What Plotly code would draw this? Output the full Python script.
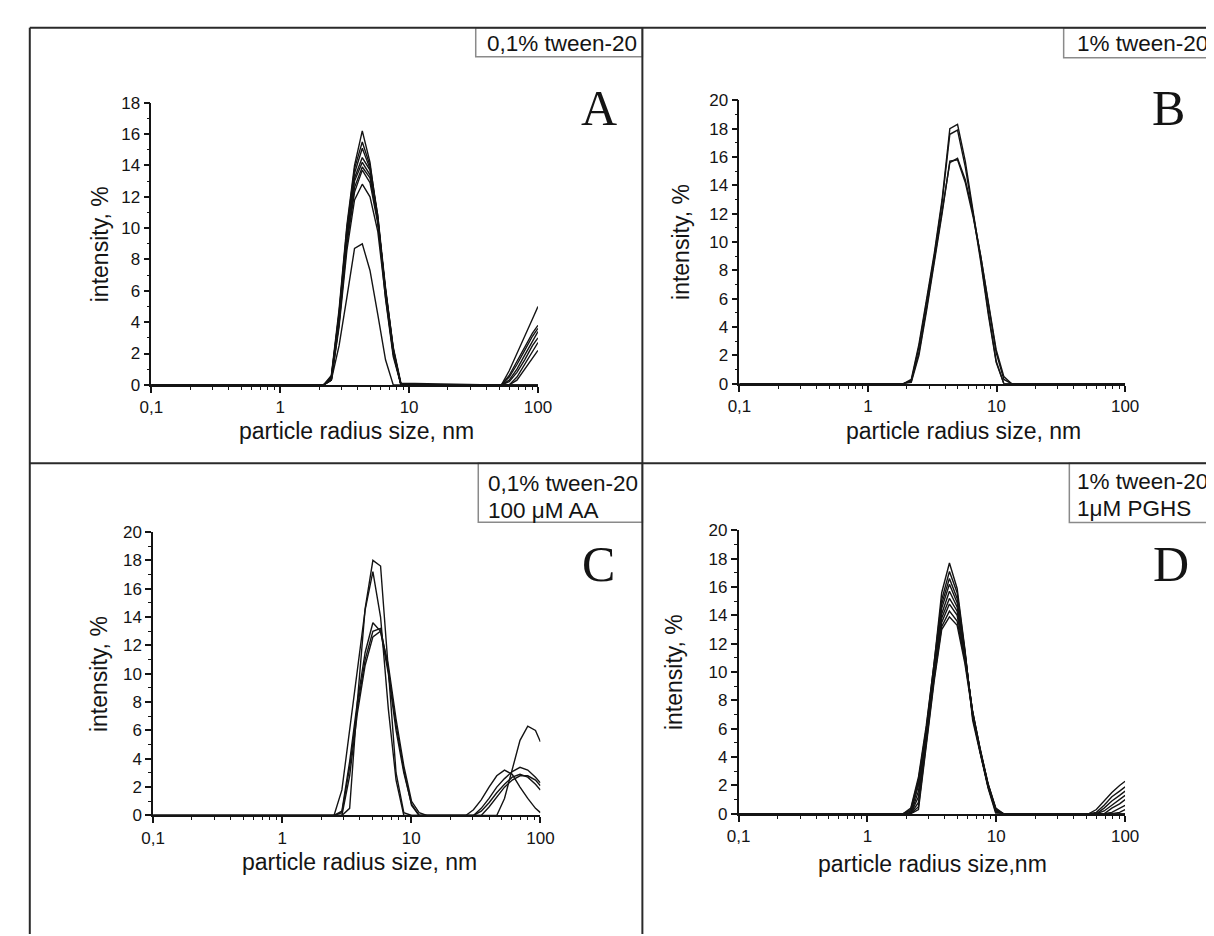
import plotly.graph_objects as go

W, H = 1214, 936

# ---------------- data ----------------
# Panel A: 0,1% tween-20
A_x_main = [2.17, 2.49, 2.86, 3.29, 3.77, 4.33, 4.97, 5.71, 6.56, 7.53, 8.65]
A_main = [
    [0, 0.6, 4.8, 10.2, 14.0, 16.2, 14.2, 10.5, 5.5, 1.8, 0],
    [0, 0.5, 4.6, 10.0, 13.8, 15.5, 14.0, 10.8, 5.8, 2.0, 0],
    [0, 0.5, 4.5, 9.8, 13.5, 15.1, 13.8, 10.6, 5.9, 2.1, 0],
    [0, 0.4, 4.3, 9.6, 13.2, 14.5, 13.7, 10.8, 6.2, 2.3, 0],
    [0, 0.4, 4.2, 9.4, 13.0, 14.2, 13.4, 10.6, 6.0, 2.2, 0],
    [0, 0.3, 4.0, 9.2, 12.6, 13.9, 13.2, 10.5, 6.1, 2.4, 0.1],
    [0, 0.3, 3.9, 9.0, 12.3, 13.7, 12.9, 10.3, 6.0, 2.3, 0],
    [0, 0.3, 3.7, 8.6, 11.8, 12.8, 12.0, 9.8, 5.6, 2.0, 0],
    [0, 0.3, 2.5, 5.6, 8.7, 9.0, 7.3, 4.5, 1.6, 0, 0],
]
A_x_far = [45.4, 52.1, 59.8, 68.7, 78.9, 90.6, 100]
A_far = [
    [0, 0, 0.9, 2.0, 3.0, 4.2, 5.0],
    [0, 0, 0.6, 1.5, 2.4, 3.3, 3.8],
    [0, 0, 0.5, 1.3, 2.2, 3.1, 3.6],
    [0, 0, 0.3, 1.0, 1.9, 2.8, 3.4],
    [0, 0, 0.2, 0.8, 1.6, 2.5, 3.0],
    [0, 0, 0, 0.5, 1.3, 2.1, 2.7],
    [0, 0, 0, 0.3, 1.0, 1.7, 2.2],
    [0, 0, 0, 0, 0, 0, 0],
    [0, 0, 0, 0, 0, 0, 0],
]

# Panel B: 1% tween-20
B_x_main = [1.89, 2.17, 2.49, 2.86, 3.29, 3.77, 4.33, 4.97, 5.71, 6.56, 7.53, 8.65, 9.93, 11.4, 13.1]
B_main = [
    [0, 0.3, 2.8, 6.0, 9.3, 13.0, 18.0, 18.3, 15.7, 12.2, 8.8, 5.0, 1.6, 0, 0],
    [0, 0.2, 2.6, 5.8, 9.1, 12.8, 17.6, 17.9, 15.3, 12.0, 8.6, 4.8, 1.5, 0, 0],
    [0, 0.2, 2.2, 5.4, 8.7, 12.2, 15.6, 15.9, 14.4, 12.0, 9.0, 5.5, 2.2, 0.3, 0],
    [0, 0.1, 2.0, 5.2, 8.5, 12.0, 15.7, 15.8, 14.2, 11.8, 9.0, 5.6, 2.4, 0.5, 0],
]
B_x_far = [90.6, 100]
B_far = [[0, 0], [0, 0], [0, 0], [0, 0]]

# Panel C: 0,1% tween-20 + 100 uM AA
C_x_main = [2.52, 2.90, 3.33, 3.82, 4.39, 5.04, 5.78, 6.64, 7.62, 8.75, 10.05, 11.5, 13.2]
C_main = [
    [0, 0, 0.5, 8.0, 14.6, 18.0, 17.6, 10.5, 3.0, 0.2, 0, 0, 0],
    [0, 1.8, 6.0, 10.5, 14.5, 17.2, 14.0, 7.5, 2.5, 0, 0, 0, 0],
    [0, 0.3, 3.8, 8.0, 11.5, 13.6, 13.0, 10.0, 6.0, 3.0, 0.8, 0, 0],
    [0, 0.2, 3.4, 7.6, 11.0, 13.0, 13.2, 10.3, 6.4, 3.2, 0.7, 0, 0],
    [0, 0, 2.8, 7.2, 10.6, 12.6, 13.0, 10.6, 6.8, 3.5, 1.0, 0.2, 0],
]
C_x_far = [26.4, 30.3, 34.8, 40.0, 45.9, 52.7, 60.5, 69.5, 79.8, 91.6, 100]
C_far = [
    [0, 0, 0, 0, 0, 1.2, 3.2, 5.3, 6.3, 6.0, 5.2],
    [0, 0.4, 1.1, 2.0, 2.8, 3.2, 2.9, 2.0, 1.2, 0.5, 0.2],
    [0, 0, 0.5, 1.2, 2.0, 2.6, 3.1, 3.4, 3.2, 2.7, 2.3],
    [0, 0, 0.3, 0.9, 1.6, 2.2, 2.7, 2.9, 2.7, 2.2, 1.8],
    [0, 0, 0, 0.6, 1.3, 2.0, 2.5, 2.8, 2.8, 2.5, 2.1],
]

# Panel D: 1% tween-20 + 1 uM PGHS
D_x_main = [1.89, 2.17, 2.49, 2.86, 3.29, 3.77, 4.33, 4.97, 5.71, 6.56, 7.53, 8.65, 9.93, 11.4]
D_main = [
    [0, 0.4, 2.6, 6.2, 10.6, 15.6, 17.7, 15.9, 11.6, 6.6, 4.2, 1.8, 0, 0],
    [0, 0.3, 2.4, 6.0, 10.4, 15.1, 17.1, 15.6, 11.5, 6.8, 4.3, 1.9, 0.1, 0],
    [0, 0.2, 2.2, 5.8, 10.2, 14.8, 16.6, 15.2, 11.4, 6.9, 4.3, 1.9, 0.2, 0],
    [0, 0.1, 2.0, 5.7, 10.1, 14.5, 16.2, 14.9, 11.3, 7.0, 4.4, 2.0, 0.2, 0],
    [0, 0, 1.6, 5.5, 9.9, 14.1, 15.7, 14.6, 11.2, 7.1, 4.4, 2.0, 0.3, 0],
    [0, 0, 1.2, 5.3, 9.8, 13.8, 15.2, 14.3, 11.1, 7.2, 4.5, 2.1, 0.3, 0],
    [0, 0, 0.8, 5.2, 9.7, 13.5, 14.8, 14.0, 11.0, 7.2, 4.5, 2.1, 0.4, 0],
    [0, 0, 0.5, 5.0, 9.5, 13.2, 14.3, 13.6, 10.8, 7.1, 4.4, 2.0, 0.3, 0],
    [0, 0, 0.3, 4.8, 9.3, 13.0, 13.9, 13.3, 10.6, 7.0, 4.3, 1.9, 0.2, 0],
]
D_x_far = [52.1, 59.8, 68.7, 78.9, 90.6, 100]
D_far = [
    [0, 0.3, 0.9, 1.5, 2.0, 2.3],
    [0, 0.1, 0.6, 1.2, 1.6, 1.9],
    [0, 0, 0.4, 0.9, 1.3, 1.6],
    [0, 0, 0.2, 0.6, 1.0, 1.3],
    [0, 0, 0, 0.4, 0.7, 1.0],
    [0, 0, 0, 0.1, 0.4, 0.6],
    [0, 0, 0, 0, 0.1, 0.3],
    [0, 0, 0, 0, 0, 0],
    [0, 0, 0, 0, 0, 0],
]

x_tickvals = [0.1, 1, 10, 100]
x_ticktext = ["0,1", "1", "10", "100"]
x_minor = [m * d for d in (0.1, 1, 10) for m in range(2, 10)]

box_labels = {
    "A": ["0,1% tween-20"],
    "B": ["1% tween-20"],
    "C": ["0,1% tween-20", "100 \u03bcM AA"],
    "D": ["1% tween-20", "1\u03bcM PGHS"],
}
x_titles = {
    "A": "particle radius size, nm",
    "B": "particle radius size, nm",
    "C": "particle radius size, nm",
    "D": "particle radius size,nm",
}
y_title = "intensity, %"
y_max = {"A": 18, "B": 20, "C": 20, "D": 20}

# ---------------- layout geometry (pixels) ----------------
def px(x):
    return x / W


def py(y):
    return 1 - y / H


# axis pixel boxes: x0, x1, ytop, ybottom
axbox = {
    "A": (134.3, 529.3, 87.5, 375.5),
    "B": (735.2, 1129.3, 85.0, 374.3),
    "C": (136.0, 531.8, 525.7, 815.0),
    "D": (734.3, 1129.3, 524.0, 813.3),
}
xtitle_pos = {"A": (344, 423), "B": (964, 423), "C": (347, 863), "D": (932, 865)}
ytitle_pos = {"A": (82, 231.7), "B": (675.5, 229.6), "C": (81, 670.4), "D": (669, 669)}
letter_pos = {"A": (592, 93), "B": (1174, 93), "C": (591, 558), "D": (1176, 558)}
boxes = {
    "A": (465.7, 636, 11, 40.7),
    "B": (1066.5, 1230, 11, 41.7),
    "C": (468.3, 636, 455.5, 515.7),
    "D": (1072.3, 1230, 455.5, 516.0),
}
box_text = {
    "A": (475, [27.0]),
    "B": (1078, [27.5]),
    "C": (476, [475.7, 503.5]),
    "D": (1078, [474.3, 501.7]),
}

panels = {
    "A": (A_x_main, A_main, A_x_far, A_far),
    "B": (B_x_main, B_main, B_x_far, B_far),
    "C": (C_x_main, C_main, C_x_far, C_far),
    "D": (D_x_main, D_main, D_x_far, D_far),
}

fig = go.Figure()
ink = "#141414"
layout_axes = {}
annotations = []
shapes = []

for i, key in enumerate(["A", "B", "C", "D"]):
    n = "" if i == 0 else str(i + 1)
    xm, mains, xf, fars = panels[key]
    for ym, yf in zip(mains, fars):
        fig.add_trace(go.Scatter(
            x=[0.1] + xm + xf, y=[0] + ym + yf, mode="lines",
            line=dict(color=ink, width=1.4), showlegend=False, hoverinfo="skip",
            xaxis="x" + n, yaxis="y" + n,
        ))
    x0, x1, yt, yb = axbox[key]
    layout_axes["xaxis" + n] = dict(
        type="log", range=[-1, 2], domain=[px(x0), px(x1)], anchor="y" + n,
        tickmode="array", tickvals=x_tickvals, ticktext=x_ticktext,
        ticks="outside", ticklen=6, tickwidth=1.5, tickcolor=ink,
        showline=True, linecolor=ink, linewidth=1.6, showgrid=False, zeroline=False,
        tickfont=dict(family="Liberation Sans", size=17, color=ink),
        minor=dict(tickmode="array", tickvals=x_minor, ticks="outside", ticklen=3,
                   tickwidth=1.3, tickcolor=ink, showgrid=False),
    )
    layout_axes["yaxis" + n] = dict(
        range=[0, y_max[key]], domain=[py(yb), py(yt)], anchor="x" + n,
        tickmode="linear", tick0=0, dtick=2,
        ticks="outside", ticklen=6, tickwidth=1.5, tickcolor=ink,
        showline=True, linecolor=ink, linewidth=1.6, showgrid=False, zeroline=False,
        tickfont=dict(family="Liberation Sans", size=17, color=ink),
        minor=dict(tick0=0, dtick=1, ticks="outside", ticklen=3, tickwidth=1.3,
                   tickcolor=ink, showgrid=False),
    )
    # axis titles
    tx, ty = xtitle_pos[key]
    annotations.append(dict(x=px(tx), y=py(ty), xref="paper", yref="paper",
                            text=x_titles[key], showarrow=False, xanchor="center", yanchor="middle",
                            font=dict(family="Liberation Sans", size=23, color=ink)))
    tx, ty = ytitle_pos[key]
    annotations.append(dict(x=px(tx), y=py(ty), xref="paper", yref="paper",
                            text=y_title, showarrow=False, textangle=-90, xanchor="center", yanchor="middle",
                            font=dict(family="Liberation Sans", size=23, color=ink)))
    # panel letter
    lx, ly = letter_pos[key]
    annotations.append(dict(x=px(lx), y=py(ly), xref="paper", yref="paper",
                            text=key, showarrow=False, xanchor="center", yanchor="middle",
                            font=dict(family="Liberation Serif", size=50, color=ink)))
    # label box
    bx0, bx1, by0, by1 = boxes[key]
    shapes.append(dict(type="rect", xref="paper", yref="paper",
                       x0=px(bx0), x1=px(bx1), y0=py(by1), y1=py(by0),
                       line=dict(color="#8a8a8a", width=1.5), fillcolor="white", layer="above"))
    tlx, tys = box_text[key]
    for txt, yy in zip(box_labels[key], tys):
        annotations.append(dict(x=px(tlx), y=py(yy), xref="paper", yref="paper",
                                text=txt, showarrow=False, xanchor="left", yanchor="middle",
                                font=dict(family="Liberation Sans", size=22.5, color=ink)))

# frame lines
frame_col = "#2a2a2a"
for (xa, ya, xb, yb2) in [(10, 11, 1214, 11), (10, 11, 10, 936), (636, 11, 636, 936), (10, 455.5, 1214, 455.5)]:
    shapes.append(dict(type="line", xref="paper", yref="paper",
                       x0=px(xa), y0=py(ya), x1=px(xb), y1=py(yb2),
                       line=dict(color=frame_col, width=2), layer="above"))

fig.update_layout(
    width=W, height=H, margin=dict(l=0, r=0, t=0, b=0),
    paper_bgcolor="white", plot_bgcolor="white",
    showlegend=False, annotations=annotations, shapes=shapes,
    **layout_axes,
)

fig.write_html("out.html")
